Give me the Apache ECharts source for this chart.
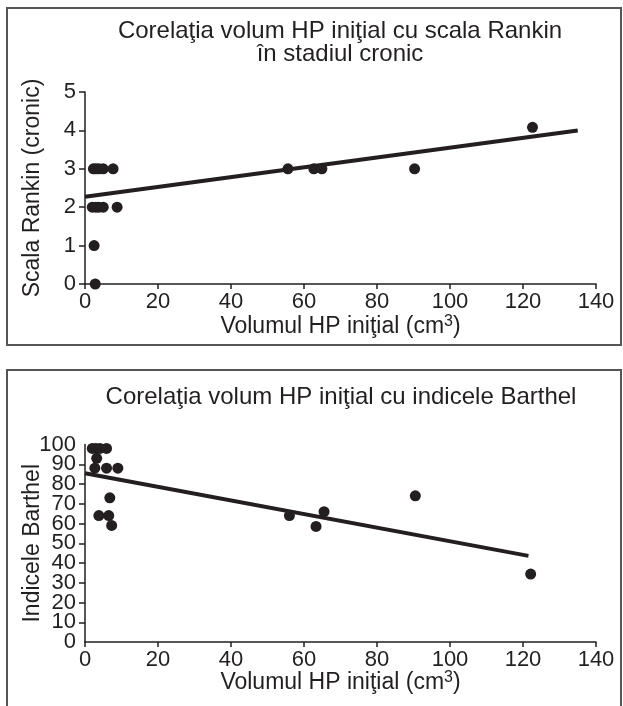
<!DOCTYPE html>
<html>
<head>
<meta charset="utf-8">
<script src="https://cdn.jsdelivr.net/npm/echarts@6/dist/echarts.min.js"></script>
<style>
  html, body { margin: 0; padding: 0; background: #fff; }
  #chart { width: 623px; height: 706px; }
</style>
</head>
<body>
<div id="chart"></div>
<script>
// volume (cm3) vs Rankin score, chronic stage
const rankinX = [2.3, 3.0, 3.8, 5.0, 7.7, 2.0, 3.0, 3.8, 5.0, 8.8, 2.5, 2.8, 55.6, 62.7, 64.9, 90.3, 122.6]
const rankinY = [3, 3, 3, 3, 3, 2, 2, 2, 2, 2, 1, 0, 3, 3, 3, 3, 4.08]
const rankinFit = [[0, 2.27], [135, 4.0]]

// volume (cm3) vs Barthel index
const barthelX = [2.0, 3.0, 4.1, 5.9, 3.2, 2.7, 5.9, 9.0, 6.8, 3.8, 6.5, 7.3, 56.0, 63.3, 65.5, 90.5, 122.1]
const barthelY = [98, 98, 98, 98, 93, 88, 88, 88, 73, 64, 64, 59, 64, 58.5, 66, 74, 34.4]
const barthelFit = [[0, 85.4], [121.5, 43.6]]

const titles = [
  'Corelaţia volum HP iniţial cu scala Rankin\nîn stadiul cronic',
  'Corelaţia volum HP iniţial cu indicele Barthel'
]
const yNames = ['Scala Rankin (cronic)', 'Indicele Barthel']
const xName = '{a|Volumul HP iniţial (cm}{s|3}{a|)}'

const ink = '#231f20'
const font = "'Liberation Sans', Arial, sans-serif"

function pairs(xs, ys) {
  return xs.map((x, i) => [x, ys[i]])
}

function xAxisFor(gridIndex, gap) {
  return {
    gridIndex: gridIndex,
    type: 'value',
    min: 0,
    max: 140,
    interval: 20,
    name: xName,
    nameLocation: 'middle',
    nameGap: gap,
    nameMoveOverlap: false,
    nameTextStyle: {
      rich: {
        a: { fontSize: 23, color: ink, fontFamily: font },
        s: { fontSize: 16, color: ink, fontFamily: font, verticalAlign: 'top', padding: [0, 0, 10, 0] }
      }
    },
    splitLine: { show: false },
    axisLine: { lineStyle: { color: ink, width: 1.5 } },
    axisTick: { length: 5, lineStyle: { color: ink, width: 1.5 } },
    axisLabel: {
      fontSize: 22,
      color: ink,
      fontFamily: font,
      margin: 7,
      showMinLabel: true,
      showMaxLabel: true
    }
  }
}

function yAxisFor(gridIndex, max, interval, showEnds) {
  return {
    gridIndex: gridIndex,
    type: 'value',
    position: 'left',
    offset: 0,
    min: 0,
    max: max,
    interval: interval,
    name: yNames[gridIndex],
    nameLocation: 'middle',
    nameGap: 41,
    nameMoveOverlap: false,
    nameTextStyle: { fontSize: 23, color: ink, fontFamily: font },
    splitLine: { show: false },
    axisLine: { show: true, lineStyle: { color: ink, width: 1.5 } },
    axisTick: { show: true, length: 6, lineStyle: { color: ink, width: 1.5 } },
    axisLabel: {
      fontSize: 22,
      color: ink,
      fontFamily: font,
      margin: 9,
      showMinLabel: showEnds,
      showMaxLabel: showEnds
    }
  }
}

// the Barthel labels are packed tighter than their height, so ECharts drops
// the ones next to 0 and 100; a second label-only axis puts 0 and 100 back
const barthelEnds = {
  gridIndex: 1,
  type: 'value',
  position: 'left',
  offset: 0,
  min: 0,
  max: 100,
  interval: 100,
  splitLine: { show: false },
  axisLine: { show: false },
  axisTick: { show: false },
  axisLabel: {
    fontSize: 22,
    color: ink,
    fontFamily: font,
    margin: 9,
    showMinLabel: true,
    showMaxLabel: true
  }
}

const chart = echarts.init(document.getElementById('chart'))
chart.setOption({
  animation: false,
  backgroundColor: '#fff',
  graphic: [
    {
      type: 'rect',
      shape: { x: 7, y: 8, width: 614, height: 337 },
      style: { fill: 'none', stroke: '#555', lineWidth: 2 }
    },
    {
      type: 'rect',
      shape: { x: 7, y: 370, width: 614, height: 360 },
      style: { fill: 'none', stroke: '#555', lineWidth: 2 }
    }
  ],
  title: [
    {
      text: titles[0],
      left: 335,
      top: 15,
      textAlign: 'center',
      textStyle: { fontSize: 24, fontWeight: 'normal', color: ink, fontFamily: font, lineHeight: 23 }
    },
    {
      text: titles[1],
      left: 336,
      top: 380,
      textAlign: 'center',
      textStyle: { fontSize: 24, fontWeight: 'normal', color: ink, fontFamily: font }
    }
  ],
  grid: [
    { left: 85, right: 27, top: 92, bottom: 422, outerBoundsMode: 'none' },
    { left: 85, right: 27, top: 444.5, bottom: 64, outerBoundsMode: 'none' }
  ],
  xAxis: [xAxisFor(0, 30), xAxisFor(1, 28)],
  yAxis: [yAxisFor(0, 5, 1, true), yAxisFor(1, 100, 10, false), barthelEnds],
  series: [
    {
      type: 'line',
      xAxisIndex: 0,
      yAxisIndex: 0,
      data: rankinFit,
      symbol: 'none',
      lineStyle: { color: ink, width: 4 },
      z: 3
    },
    {
      type: 'scatter',
      xAxisIndex: 0,
      yAxisIndex: 0,
      data: pairs(rankinX, rankinY),
      symbolSize: 11,
      itemStyle: { color: ink, opacity: 1 },
      z: 4
    },
    {
      type: 'line',
      xAxisIndex: 1,
      yAxisIndex: 1,
      data: barthelFit,
      symbol: 'none',
      lineStyle: { color: ink, width: 4 },
      z: 3
    },
    {
      type: 'scatter',
      xAxisIndex: 1,
      yAxisIndex: 1,
      data: pairs(barthelX, barthelY),
      symbolSize: 11,
      itemStyle: { color: ink, opacity: 1 },
      z: 4
    }
  ]
})
</script>
</body>
</html>
